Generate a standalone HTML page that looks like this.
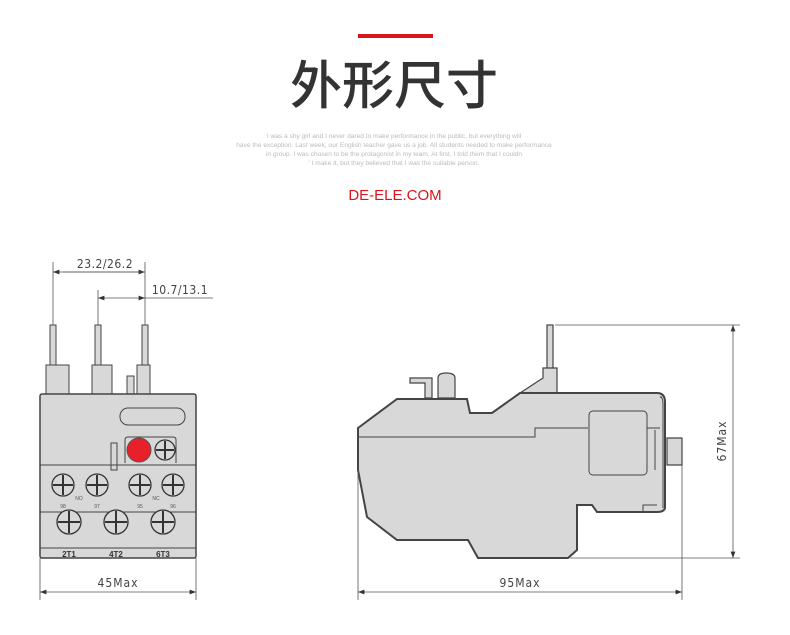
<!DOCTYPE html>
<html><head><meta charset="utf-8"><style>
html,body{margin:0;padding:0;background:#fff;}
body{width:790px;height:635px;overflow:hidden;}
svg{display:block}
</style></head><body>
<svg width="790" height="635" viewBox="0 0 790 635" xmlns="http://www.w3.org/2000/svg" font-family="Liberation Sans, sans-serif">
<rect x="358" y="34" width="75" height="4" fill="#d9141b"/>
<text x="394" y="104" text-anchor="middle" font-family="Liberation Sans, Noto Sans CJK SC, sans-serif" font-size="52" font-weight="500" fill="#333">外形尺寸</text>
<g font-size="6.6" fill="#bbb" text-anchor="middle">
<text x="394" y="138">I was a shy girl and I never dared to make performance in the public, but everything will</text>
<text x="394" y="147">have the exception. Last week, our English teacher gave us a job. All students needed to make performance</text>
<text x="394" y="156">in group. I was chosen to be the protagonist in my team. At first, I told them that I couldn</text>
<text x="394" y="165">' t make it, but they believed that I was the suitable person.</text>
</g>
<text x="395" y="200" text-anchor="middle" font-size="15" fill="#d9141b">DE-ELE.COM</text>

<defs><marker id="a" markerWidth="8" markerHeight="6" refX="8" refY="3" orient="auto-start-reverse"><path d="M0,0 L8,3 L0,6 z" fill="#333"/></marker></defs>

<!-- Front view -->
<g stroke="#555" stroke-width="0.8" fill="none">
<line x1="53" y1="262" x2="53" y2="330"/><line x1="145" y1="262" x2="145" y2="330"/><line x1="98" y1="290" x2="98" y2="330"/>
<line x1="53" y1="272" x2="145" y2="272" marker-start="url(#a)" marker-end="url(#a)"/>
<line x1="98" y1="298" x2="145" y2="298" marker-start="url(#a)" marker-end="url(#a)"/>
<line x1="145" y1="298" x2="213" y2="298"/>
<line x1="63" y1="272" x2="145" y2="272"/>
</g>
<g font-size="12" fill="#444" font-family="DejaVu Sans Condensed, Liberation Sans, sans-serif">
<text x="105" y="268" text-anchor="middle" letter-spacing="0.5">23.2/26.2</text>
<text x="180" y="294" text-anchor="middle" letter-spacing="0.5">10.7/13.1</text>
<text x="118" y="587" text-anchor="middle" letter-spacing="1">45Max</text>
<text x="520" y="587" text-anchor="middle" letter-spacing="1">95Max</text>
<text x="726" y="441" text-anchor="middle" letter-spacing="1" transform="rotate(-90 726 441)">67Max</text>
</g>
<g fill="#d8d8d8" stroke="#444" stroke-width="1">
<rect x="50" y="325" width="6" height="45"/><rect x="95" y="325" width="6" height="45"/><rect x="142" y="325" width="6" height="45"/>
<rect x="46" y="365" width="23" height="30"/><rect x="92" y="365" width="20" height="30"/><rect x="137" y="365" width="13" height="30"/>
<rect x="127" y="376" width="7" height="18"/>
<rect x="40" y="394" width="156" height="164" rx="2" stroke-width="1.5"/>
</g>
<g stroke="#444" fill="none" stroke-width="1">
<line x1="40" y1="465" x2="196" y2="465"/><line x1="40" y1="512" x2="196" y2="512"/><line x1="40" y1="548" x2="196" y2="548"/>
<rect x="120" y="408" width="65" height="17" rx="8"/>
<path d="M125,463 V440 Q125,437 128,437 H173 Q176,437 176,440 V463"/>
<rect x="111" y="443" width="6" height="27"/>
</g>
<circle cx="139" cy="450" r="12" fill="#e8202a" stroke="#555"/>
<g stroke="#333" stroke-width="1.3" fill="#d8d8d8">
<circle cx="165" cy="450" r="10"/>
<circle cx="63" cy="485" r="11"/><circle cx="97" cy="485" r="11"/><circle cx="140" cy="485" r="11"/><circle cx="173" cy="485" r="11"/>
<circle cx="69" cy="522" r="12"/><circle cx="116" cy="522" r="12"/><circle cx="163" cy="522" r="12"/>
</g>
<g stroke="#333" stroke-width="2">
<path d="M165,441v18M156,450h18"/>
<path d="M63,475v20M53,485h20M97,475v20M87,485h20M140,475v20M130,485h20M173,475v20M163,485h20"/>
<path d="M69,511v22M58,522h22M116,511v22M105,522h22M163,511v22M152,522h22"/>
</g>
<g font-size="5" fill="#555" text-anchor="middle">
<text x="63" y="508">98</text><text x="97" y="508">97</text><text x="140" y="508">95</text><text x="173" y="508">96</text>
<text x="79" y="500">NO</text><text x="156" y="500">NC</text>
</g>
<g font-size="8" font-weight="bold" fill="#333" text-anchor="middle">
<text x="69" y="557">2T1</text><text x="116" y="557">4T2</text><text x="163" y="557">6T3</text>
</g>
<g stroke="#555" stroke-width="0.8">
<line x1="40" y1="558" x2="40" y2="600"/><line x1="196" y1="558" x2="196" y2="600"/>
<line x1="40" y1="592" x2="196" y2="592" marker-start="url(#a)" marker-end="url(#a)"/>
</g>

<!-- Side view -->
<g fill="#d8d8d8" stroke="#444" stroke-width="1.2">
<rect x="547" y="325" width="6" height="45"/>
<path d="M520,393 L543,378 V368 H557 V393 Z"/>
<path d="M410,378 H432 V398 H425 V383 H410 Z"/>
<path d="M438,398 V378 Q438,373 446,373 Q455,373 455,378 V398 Z"/>
<path d="M667,438 H682 V465 H667 Z"/>
<path d="M358,428 L397,399 H467 L470,413 H492 L520,393 H657 Q665,393 665,402 V507 Q665,512 657,512 H597 L592,505 H577 V550 L568,558 H478 L468,540 H397 L367,517 L358,470 Z" stroke-width="2"/>
</g>
<g stroke="#444" stroke-width="1" fill="none">
<path d="M358,437 H535 V428 H588"/>
<path d="M647,428 H660 M662,397 H660 Q663,397 663,405 V508"/>
<rect x="589" y="411" width="58" height="64" rx="4"/>
<path d="M655,430 V470 M643,512 V505 H657"/>
</g>
<g stroke="#555" stroke-width="0.8">
<line x1="555" y1="325" x2="740" y2="325"/><line x1="570" y1="558" x2="740" y2="558"/>
<line x1="733" y1="325" x2="733" y2="558" marker-start="url(#a)" marker-end="url(#a)"/>
<line x1="358" y1="470" x2="358" y2="600"/><line x1="682" y1="465" x2="682" y2="600"/>
<line x1="358" y1="592" x2="682" y2="592" marker-start="url(#a)" marker-end="url(#a)"/>
</g>
</svg>
</body></html>
